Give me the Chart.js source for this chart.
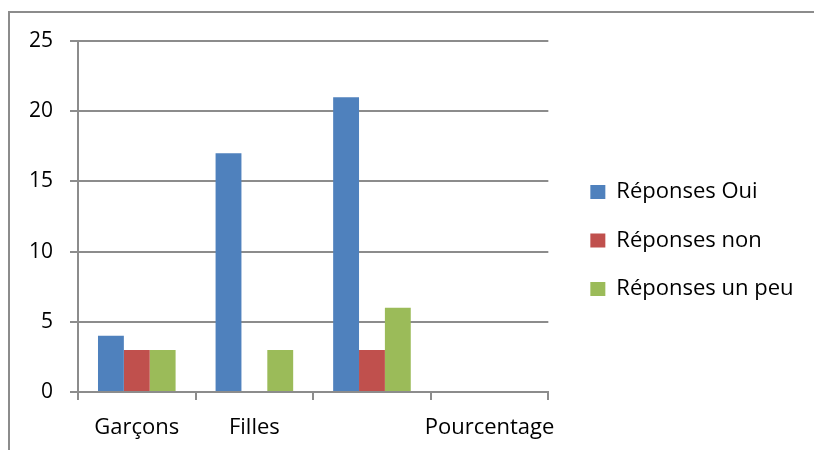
<!DOCTYPE html>
<html>
<head>
<meta charset="utf-8">
<script src="https://cdn.jsdelivr.net/npm/chart.js@4"></script>
<style>
  html, body { margin: 0; padding: 0; background: #fff; overflow: hidden; }
  #cadre {
    position: absolute; left: 8px; top: 11px; width: 900px; height: 500px;
    border-left: 2px solid #8c8c8c; border-top: 2px solid #8c8c8c;
  }
  #graphique { position: absolute; left: 0; top: 0; }
</style>
</head>
<body>
<div id="cadre"></div>
<canvas id="graphique" width="814" height="440"></canvas>
<script>
const categories = ['Garçons', 'Filles', '', 'Pourcentage'];
const reponsesOui = [4, 17, 21, null];
const reponsesNon = [3, 0, 3, null];
const reponsesUnPeu = [3, 3, 6, null];
const yTicks = [0, 5, 10, 15, 20, 25];

const gris = '#8c8c8c';
const police = 'Open Sans, sans-serif';

const datasets = [
  { label: 'Réponses Oui', data: reponsesOui, backgroundColor: '#4F81BD' },
  { label: 'Réponses non', data: reponsesNon, backgroundColor: '#C0504D' },
  { label: 'Réponses un peu', data: reponsesUnPeu, backgroundColor: '#9BBB59' }
];

new Chart(document.getElementById('graphique'), {
  type: 'bar',
  data: { labels: categories, datasets: datasets },
  options: {
    responsive: false,
    animation: false,
    categoryPercentage: 0.66,
    barPercentage: 1.0,
    layout: { padding: { left: 30, top: 41, right: 10.5, bottom: 0 } },
    scales: {
      x: {
        grid: { drawOnChartArea: false, drawTicks: true, tickLength: 8, color: gris, lineWidth: 2, offset: true },
        border: { color: gris, width: 2 },
        ticks: { padding: 15, color: '#000', font: { family: police, size: 22 }, maxRotation: 0, autoSkip: false },
        afterFit: s => { s.height = 48; }
      },
      y: {
        min: yTicks[0],
        max: yTicks[yTicks.length - 1],
        grid: { color: gris, lineWidth: 2, tickLength: 8 },
        border: { color: gris, width: 2 },
        ticks: { stepSize: 5, padding: 17, color: '#000', font: { family: police, size: 21 } },
        afterFit: s => { s.width = 48; }
      },
      espace: {
        position: 'right',
        grid: { display: false },
        border: { display: false },
        ticks: { display: false },
        afterFit: s => { s.width = 15.5; }
      }
    },
    plugins: {
      legend: {
        position: 'right',
        maxWidth: 320,
        labels: {
          boxWidth: 15,
          boxHeight: 14,
          padding: 26.5,
          color: '#000',
          font: { family: police, size: 22 }
        }
      },
      tooltip: { enabled: false }
    }
  }
});
</script>
</body>
</html>
